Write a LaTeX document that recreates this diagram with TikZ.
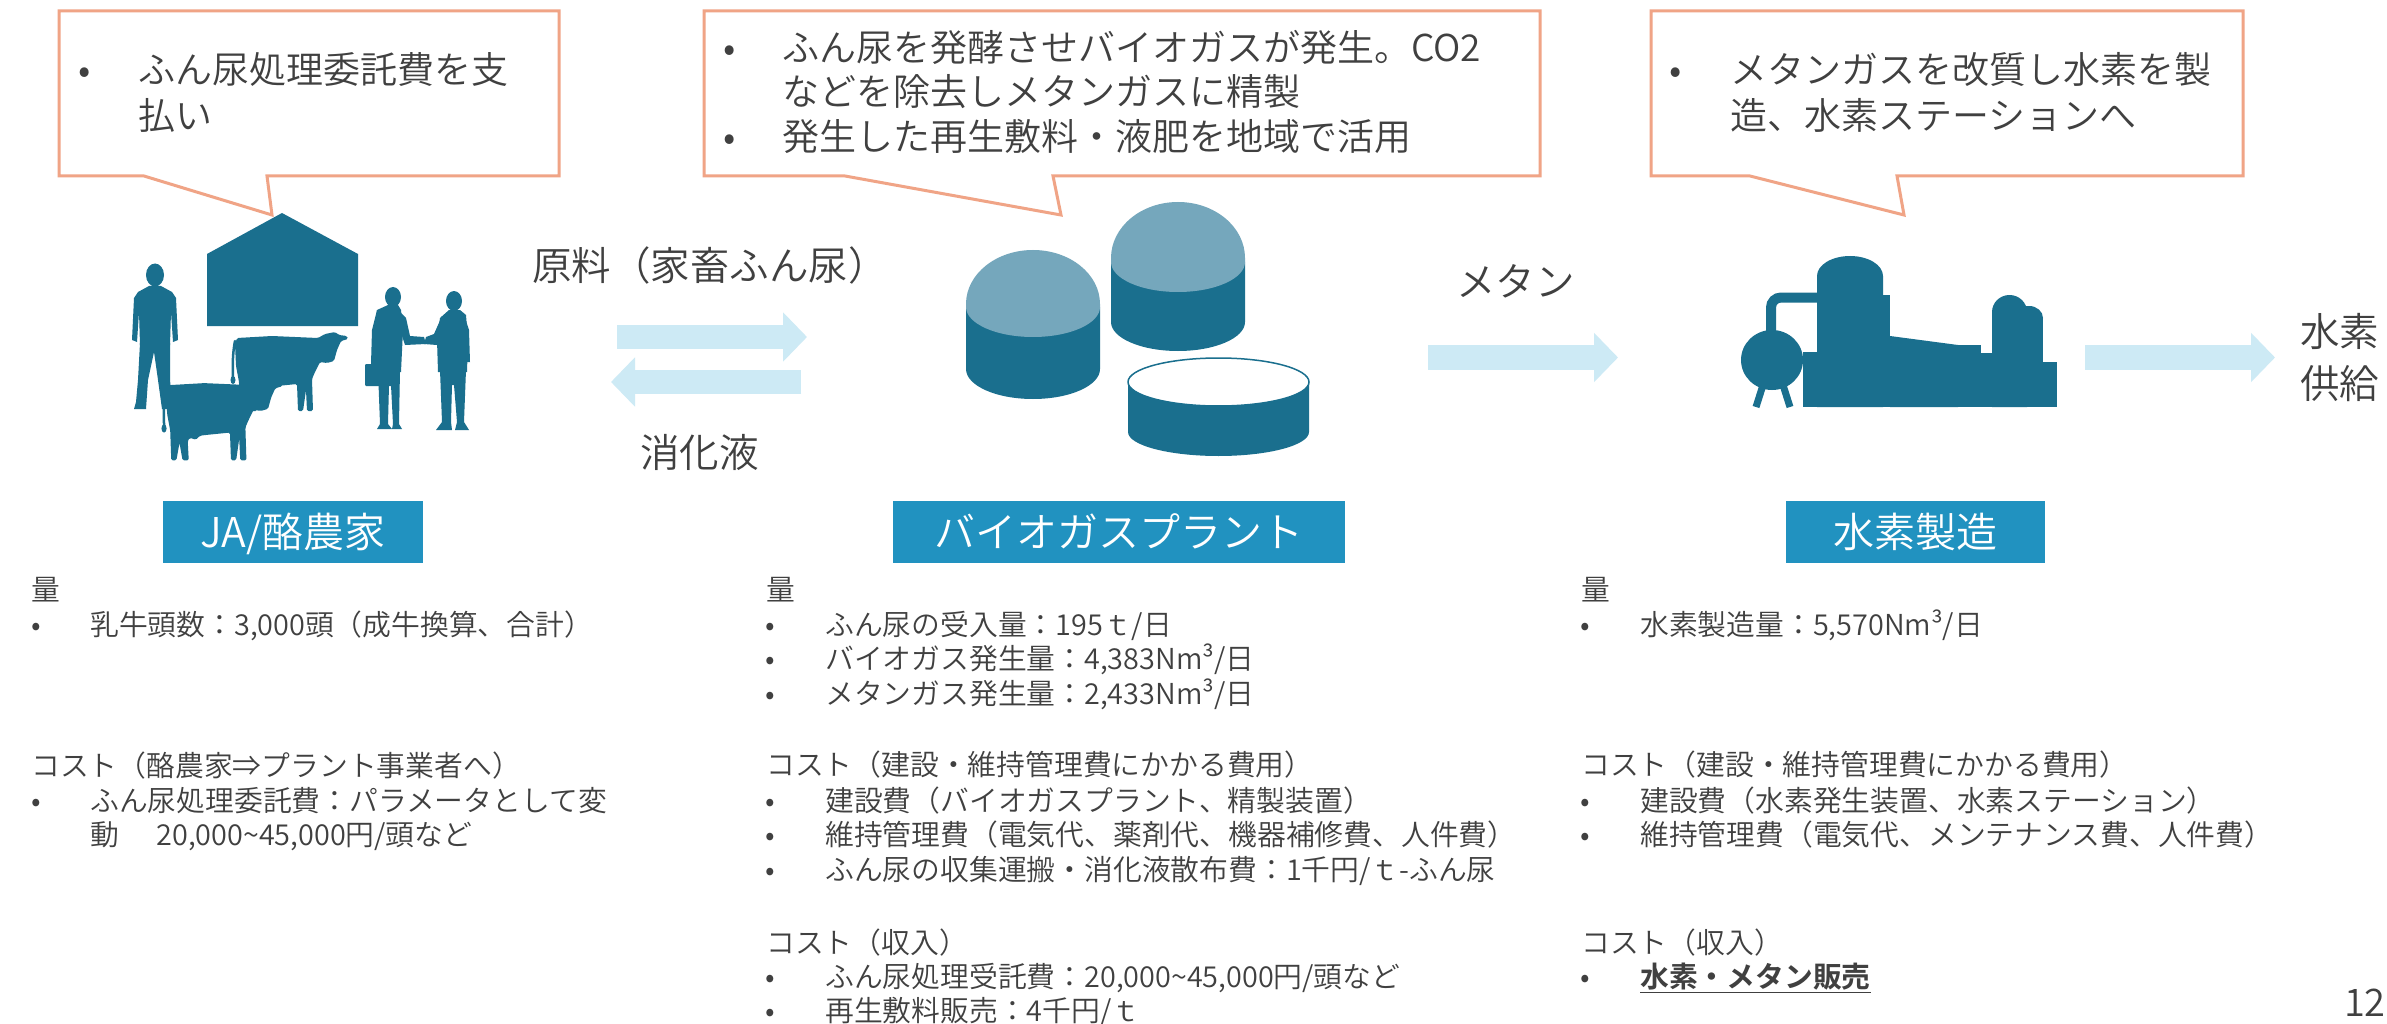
\documentclass[tikz,border=0pt]{standalone}
\usepackage{fontspec}
\IfFontExistsTF{Noto Sans CJK JP DemiLight}
  {\setmainfont{Noto Sans CJK JP DemiLight}[BoldFont={Noto Sans CJK JP Bold}]}
  {\setmainfont{Noto Sans CJK JP}}
\usetikzlibrary{arrows.meta}

\definecolor{plantdark}{HTML}{1A6F8E}
\definecolor{plantlight}{HTML}{75A7BC}
\definecolor{boxblue}{HTML}{2192C0}
\definecolor{flowblue}{HTML}{CDEAF5}
\definecolor{calloutline}{HTML}{F0A486}
\definecolor{txtgray}{HTML}{404040}

\tikzset{
  txt/.style={anchor=west, inner sep=0pt, text=txtgray},
  dot/.style={anchor=center, inner sep=0pt, text=txtgray},
  callfont/.style={font=\fontsize{37}{44}\selectfont, text height=32.6pt, text depth=4.4pt},
  bodyfont/.style={font=\fontsize{28.8}{34.6}\selectfont, text height=25.3pt, text depth=3.5pt},
  labelfont/.style={font=\fontsize{39.5}{47}\selectfont, text height=34.8pt, text depth=4.7pt},
  stagebox/.style={fill=boxblue, text=white, inner sep=0pt, minimum height=62pt,
    font=\fontsize{41}{49}\selectfont, text height=36.1pt, text depth=4.9pt},
  callout/.style={draw=calloutline, line width=3pt, fill=white, line join=miter},
  flow/.style={draw=flowblue, line width=24.5pt, -{Triangle[length=24pt, width=48pt]}},
  silhouette/.style={fill=plantdark},
  cow/.pic={
    \fill[plantdark, rounded corners=1.5pt] (5,6) -- (40,4) -- (86,6) -- (93,2) -- (103,0)
      -- (107,3) -- (115,4) -- (116,7) -- (109,9) -- (105,18) -- (102,29) -- (95,31)
      -- (88,30) -- (83,40) -- (80,47) -- (81,79) -- (75,79) -- (74,58) -- (71,79)
      -- (66,79) -- (65,52) -- (45,54) -- (36,55) -- (32,59) -- (26,57) -- (24,60)
      -- (25,79) -- (19,79) -- (16,62) -- (13,79) -- (8,79) -- (7,50) -- (4,34)
      -- (3,12) -- cycle;
    \draw[plantdark, line width=2.5pt, line cap=round] (3,9) .. controls (0,25) and (1,35) .. (1,46);
    \fill[plantdark] (1,48) ellipse [x radius=2.5, y radius=4];
  }
}

\begin{document}
\begin{tikzpicture}[x=1pt, y=-1pt]
\useasboundingbox (0,0) rectangle (2387,1024);
\fill[white] (0,0) rectangle (2387,1024);

% ---------- speech callouts ----------
\draw[callout] (59,11) -- (559,11) -- (559,176) -- (267,176) -- (272,215) -- (144,176) -- (59,176) -- cycle;
\draw[callout] (704,11) -- (1540,11) -- (1540,176) -- (1053,176) -- (1061,215) -- (845,176) -- (704,176) -- cycle;
\draw[callout] (1651,11) -- (2243,11) -- (2243,176) -- (1897,176) -- (1904,215) -- (1750,176) -- (1651,176) -- cycle;

\node[dot, callfont] (c1b1) at (85,69) {•};
\node[txt, callfont] (c1l1) at (138,69) {ふん尿処理委託費を支};
\node[txt, callfont] (c1l2) at (138,115) {払い};

\node[dot, callfont] (c2b1) at (730,47) {•};
\node[txt, callfont] (c2l1) at (782,47) {ふん尿を発酵させバイオガスが発生。CO2};
\node[txt, callfont] (c2l2) at (782,91) {などを除去しメタンガスに精製};
\node[dot, callfont] (c2b2) at (730,136) {•};
\node[txt, callfont] (c2l3) at (782,136) {発生した再生敷料・液肥を地域で活用};

\node[dot, callfont] (c3b1) at (1676,69) {•};
\node[txt, callfont] (c3l1) at (1730,69) {メタンガスを改質し水素を製};
\node[txt, callfont] (c3l2) at (1730,115) {造、水素ステーションへ};

% ---------- farm: barn, farmer, cows, handshake ----------
\fill[silhouette] (207,254) -- (282,213) -- (358,254) -- (358,326) -- (207,326) -- cycle;

% farmer
\fill[silhouette] (155,275) ellipse [x radius=9, y radius=11.5];
\fill[silhouette] (149,286) -- (161,286) -- (172,292) -- (176,298) -- (178,340) -- (173,342)
  -- (171,312) -- (170,345) -- (140,345) -- (139,312) -- (137,342) -- (132,340) -- (134,298)
  -- (138,292) -- cycle;
\fill[silhouette] (140,343) -- (138,380) -- (136,402) -- (134,409) -- (146,409) -- (148,380)
  -- (154,352) -- (158,380) -- (162,409) -- (173,409) -- (170,380) -- (170,343) -- cycle;

% cows
\pic at (232,332) {cow};
\pic[scale=1.03] at (163,379) {cow};

% business partner on the left, with briefcase
\fill[silhouette] (393,297) ellipse [x radius=8, y radius=10];
\fill[silhouette] (388,305) -- (398,305) -- (401,310) -- (403,330) -- (401,372) -- (377,372)
  -- (375,330) -- (377,310) -- cycle;
\fill[silhouette] (398,310) -- (406,318) -- (410,336) -- (424,337) -- (426,344) -- (405,345)
  -- (400,330) -- cycle;
\fill[silhouette] (377,310) -- (372,330) -- (371,364) -- (377,364) -- (379,330) -- cycle;
\fill[silhouette, rounded corners=1pt] (365,364) rectangle (399,386);
\fill[silhouette] (378,370) -- (380,424) -- (377,429) -- (392,429) -- (388,424) -- (389,385)
  -- (391,385) -- (393,424) -- (392,429) -- (402,429) -- (399,424) -- (400,370) -- cycle;

% business partner on the right
\fill[silhouette] (454,301) ellipse [x radius=8, y radius=10];
\fill[silhouette] (449,310) -- (460,310) -- (466,315) -- (468,340) -- (467,372) -- (438,372)
  -- (437,340) -- (440,318) -- cycle;
\fill[silhouette] (442,316) -- (434,334) -- (426,337) -- (424,344) -- (437,345) -- (444,330) -- cycle;
\fill[silhouette] (464,315) -- (469,330) -- (470,362) -- (465,362) -- (463,330) -- cycle;
\fill[silhouette] (440,370) -- (442,422) -- (436,430) -- (452,430) -- (451,422) -- (452,385)
  -- (454,385) -- (457,422) -- (455,430) -- (469,430) -- (464,422) -- (466,370) -- cycle;

% ---------- biogas plant: three digester tanks ----------
% tank A
\fill[plantdark] (966,307) -- (966,369) arc[start angle=180, end angle=0, x radius=67, y radius=30] -- (1100,307) -- cycle;
\fill[plantlight] (966,307) -- (966,304) arc[start angle=180, end angle=360, x radius=67, y radius=54]
  -- (1100,307) arc[start angle=0, end angle=180, x radius=67, y radius=30] -- cycle;
% tank B
\fill[plantdark] (1111,262) -- (1111,322) arc[start angle=180, end angle=0, x radius=67, y radius=29] -- (1245,262) -- cycle;
\fill[plantlight] (1111,262) -- (1111,258) arc[start angle=180, end angle=360, x radius=67, y radius=56]
  -- (1245,262) arc[start angle=0, end angle=180, x radius=67, y radius=30] -- cycle;
% tank C (open top)
\fill[plantdark] (1128,382) -- (1128,432) arc[start angle=180, end angle=0, x radius=90.5, y radius=24] -- (1309,382) -- cycle;
\filldraw[fill=white, draw=plantdark, line width=1.5pt] (1218.5,382) ellipse [x radius=90.5, y radius=24];

% ---------- hydrogen production unit ----------
\fill[silhouette] (1817,276) arc[start angle=180, end angle=360, x radius=33, y radius=20] -- (1883,407) -- (1817,407) -- cycle;
\fill[silhouette] (1883,295) rectangle (1890,407);
\fill[silhouette] (1890,336) -- (1958,345) -- (1958,407) -- (1890,407) -- cycle;
\fill[silhouette] (1958,345) rectangle (1981,407);
\fill[silhouette] (1981,353) rectangle (1992,407);
\fill[silhouette] (1992,312) arc[start angle=180, end angle=360, x radius=17.5, y radius=17] -- (2027,407) -- (1992,407) -- cycle;
\fill[silhouette] (2015,318) rectangle (2043,407);
\fill[silhouette] (2029,318) ellipse [x radius=14, y radius=12];
\fill[silhouette] (2043,362) rectangle (2057,407);
\fill[silhouette] (1803,352) rectangle (1817,407);
\fill[silhouette] (1772,360) ellipse [x radius=31, y radius=30];
\draw[plantdark, line width=10pt, rounded corners=10pt] (1771,340) -- (1771,297.5) -- (1820,297.5);
\draw[plantdark, line width=7pt] (1756,407) -- (1763,385);
\draw[plantdark, line width=7pt] (1790,407) -- (1783,385);

% ---------- flows between the stages ----------
\coordinate (rawS) at (617,337);   \coordinate (rawE) at (807,337);
\coordinate (digS) at (801,382);   \coordinate (digE) at (611,382);
\coordinate (ch4S) at (1428,357.5); \coordinate (ch4E) at (1618,357.5);
\coordinate (h2S) at (2085,357.5);  \coordinate (h2E) at (2275,357.5);
\draw[flow] (rawS) -- (rawE);
\draw[flow] (digS) -- (digE);
\draw[flow] (ch4S) -- (ch4E);
\draw[flow] (h2S) -- (h2E);

\node[txt, labelfont] (rawlbl) at (532,265) {原料（家畜ふん尿）};
\node[txt, labelfont] (diglbl) at (640,452) {消化液};
\node[txt, labelfont] (ch4lbl) at (1456,281) {メタン};
\node[txt, labelfont] (suplA) at (2300,331) {水素};
\node[txt, labelfont] (suplB) at (2300,383) {供給};

% ---------- stage labels ----------
\node[stagebox, minimum width=260pt] (farm) at (293,532) {JA/酪農家};
\node[stagebox, minimum width=452pt] (plant) at (1119,532) {バイオガスプラント};
\node[stagebox, minimum width=259pt] (h2) at (1915.5,532) {水素製造};

% ---------- figures: dairy farmers ----------
\node[txt, bodyfont] (fq) at (31,590) {量};
\node[dot, bodyfont] (fqd1) at (36,625) {•};
\node[txt, bodyfont] (fq1) at (90,625) {乳牛頭数：3,000頭（成牛換算、合計）};
\node[txt, bodyfont] (fc) at (31,766) {コスト（酪農家⇒プラント事業者へ）};
\node[dot, bodyfont] (fcd1) at (36,801) {•};
\node[txt, bodyfont] (fc1) at (90,801) {ふん尿処理委託費：パラメータとして変};
\node[txt, bodyfont] (fc1b) at (90,835) {動\hspace{1.3em}20,000\textasciitilde45,000円/頭など};

% ---------- figures: biogas plant ----------
\node[txt, bodyfont] (pq) at (766,590) {量};
\node[dot, bodyfont] (pqd1) at (770,625) {•};
\node[txt, bodyfont] (pq1) at (825,625) {ふん尿の受入量：195ｔ/日};
\node[dot, bodyfont] (pqd2) at (770,659) {•};
\node[txt, bodyfont] (pq2) at (825,659) {バイオガス発生量：4,383Nm³/日};
\node[dot, bodyfont] (pqd3) at (770,694) {•};
\node[txt, bodyfont] (pq3) at (825,694) {メタンガス発生量：2,433Nm³/日};
\node[txt, bodyfont] (pc) at (766,765) {コスト（建設・維持管理費にかかる費用）};
\node[dot, bodyfont] (pcd1) at (770,801) {•};
\node[txt, bodyfont] (pc1) at (825,801) {建設費（バイオガスプラント、精製装置）};
\node[dot, bodyfont] (pcd2) at (770,835) {•};
\node[txt, bodyfont] (pc2) at (825,835) {維持管理費（電気代、薬剤代、機器補修費、人件費）};
\node[dot, bodyfont] (pcd3) at (770,870) {•};
\node[txt, bodyfont] (pc3) at (825,870) {ふん尿の収集運搬・消化液散布費：1千円/ｔ-ふん尿};
\node[txt, bodyfont] (pr) at (766,943) {コスト（収入）};
\node[dot, bodyfont] (prd1) at (770,977) {•};
\node[txt, bodyfont] (pr1) at (825,977) {ふん尿処理受託費：20,000\textasciitilde45,000円/頭など};
\node[dot, bodyfont] (prd2) at (770,1011) {•};
\node[txt, bodyfont] (pr2) at (825,1011) {再生敷料販売：4千円/ｔ};

% ---------- figures: hydrogen production ----------
\node[txt, bodyfont] (hq) at (1581,590) {量};
\node[dot, bodyfont] (hqd1) at (1585,625) {•};
\node[txt, bodyfont] (hq1) at (1640,625) {水素製造量：5,570Nm³/日};
\node[txt, bodyfont] (hc) at (1581,765) {コスト（建設・維持管理費にかかる費用）};
\node[dot, bodyfont] (hcd1) at (1585,801) {•};
\node[txt, bodyfont] (hc1) at (1640,801) {建設費（水素発生装置、水素ステーション）};
\node[dot, bodyfont] (hcd2) at (1585,835) {•};
\node[txt, bodyfont] (hc2) at (1640,835) {維持管理費（電気代、メンテナンス費、人件費）};
\node[txt, bodyfont] (hr) at (1581,943) {コスト（収入）};
\node[dot, bodyfont] (hrd1) at (1585,977) {•};
\node[txt, bodyfont] (hr1) at (1640,977) {\bfseries\underline{水素・メタン販売}};

% page number
\node[txt, anchor=east, font=\fontsize{38}{46}\selectfont, text height=33pt, text depth=5pt] (pageno) at (2386,1002) {12};
\end{tikzpicture}
\end{document}
